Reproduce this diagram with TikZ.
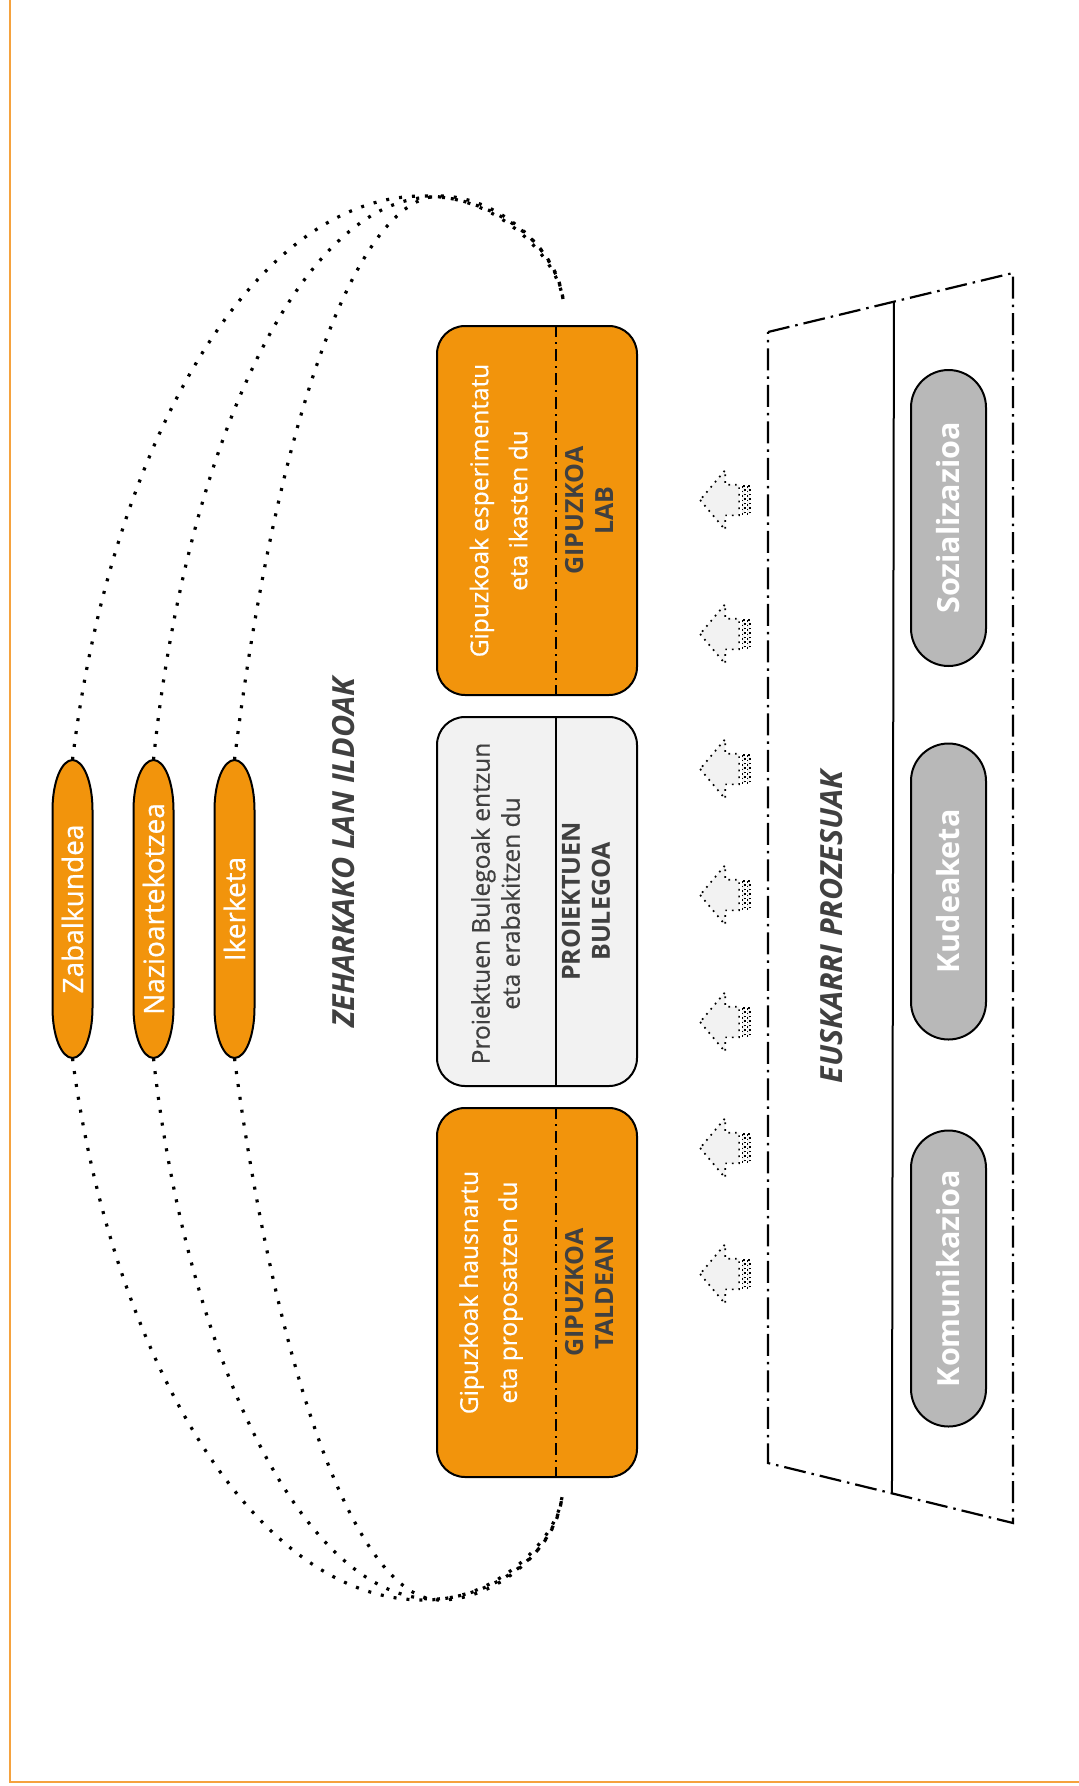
\documentclass[tikz,border=0pt]{standalone}
\usepackage{fontspec}
\setmainfont{Open Sans}
\newfontfamily\regfont{Open Sans}[FakeBold = 0.6]
\usepackage{xcolor}
\usepackage{tikz}
\usetikzlibrary{positioning, calc, shapes.arrows}

\definecolor{gipOrange}{RGB}{242,148,12}
\definecolor{frameOrange}{RGB}{245,162,62}
\definecolor{darkText}{RGB}{64,64,64}
\definecolor{stadiumGray}{RGB}{184,184,184}
\definecolor{paleGray}{RGB}{242,242,242}

\begin{document}
\begin{tikzpicture}[x = 1pt, y = -1pt,
    bigbox/.style = {draw, line width = 2, rounded corners = 28, minimum width = 200,
        minimum height = 369, inner sep = 0},
    desc/.style = {rotate = 90, align = center, inner sep = 0,
        font = \regfont\fontsize{24.5}{39}\selectfont},
    boxname/.style = {rotate = 90, align = center, inner sep = 0, text = darkText,
        font = \bfseries\fontsize{25}{30}\selectfont},
    ovalline/.style = {draw, line width = 2, fill = gipOrange},
    ovaltext/.style = {rotate = 90, inner sep = 0, minimum width = 298, text = white,
        font = \regfont\fontsize{28}{32}\selectfont},
    heading/.style = {rotate = 90, inner sep = 0, text = darkText,
        font = \bfseries\itshape\fontsize{30.5}{36}\selectfont},
    stadium/.style = {rotate = 90, draw, line width = 2, fill = stadiumGray,
        rounded corners = 37.5, minimum width = 296, minimum height = 75, inner sep = 0,
        text = white, font = \bfseries\fontsize{30.5}{36}\selectfont},
    dotline/.style = {line width = 3.2, dash pattern = on 3 off 10},
    dashdot/.style = {line width = 2, dash pattern = on 12 off 5 on 2 off 5},
    dashframe/.style = {line width = 2.2, dash pattern = on 22 off 6 on 2.5 off 6},
    pusharrow/.style = {single arrow, shape border rotate = 180, draw, fill = paleGray,
        line width = 1.7, dash pattern = on 1.7 off 5, minimum height = 39,
        inner xsep = 0, inner ysep = 14.5, single arrow head extend = 14.5,
        single arrow tip angle = 100},
    stripe/.style = {draw, fill = paleGray, line width = 1.5, dash pattern = on 1.5 off 3}]

    \useasboundingbox (0, 0) rectangle (1079, 1786);
    \draw [frameOrange, line width = 2.5] (10, 0) -- (10, 1782) -- (1079, 1782);

    % ildoak
    \foreach \cx in {72.5, 153.5, 234.5} {
        \draw [ovalline] (\cx - 20, 810) .. controls (\cx - 20, 782) and (\cx - 11, 760)
            .. (\cx, 760) .. controls (\cx + 11, 760) and (\cx + 20, 782) .. (\cx + 20, 810)
            -- (\cx + 20, 1008) .. controls (\cx + 20, 1036) and (\cx + 11, 1058)
            .. (\cx, 1058) .. controls (\cx - 11, 1058) and (\cx - 20, 1036)
            .. (\cx - 20, 1008) -- cycle;
    }
    \node [ovaltext] (zab) at (72.5, 909) {Zabalkundea};
    \node [ovaltext] (naz) at (153.5, 909) {Nazioartekotzea};
    \node [ovaltext] (iker) at (234.5, 909) {Ikerketa};
    \node [heading] (zeharkako) at (344, 853) {ZEHARKAKO LAN ILDOAK};

    % boxes
    \node [bigbox, fill = gipOrange] (lab) at (537, 510.5) {};
    \node [bigbox, fill = paleGray] (bulegoa) at (537, 901.5) {};
    \node [bigbox, fill = gipOrange] (taldean) at (537, 1292.5) {};
    \draw [dashdot] ($(lab.north) + (19, 0)$) -- ($(lab.south) + (19, 0)$);
    \draw [line width = 2] ($(bulegoa.north) + (19, 0)$) -- ($(bulegoa.south) + (19, 0)$);
    \draw [dashdot] ($(taldean.north) + (19, 0)$) -- ($(taldean.south) + (19, 0)$);

    \node [desc, text = white] (labtext) at ($(lab.center) + (-38.5, 0)$)
        {Gipuzkoak esperimentatu\\eta ikasten du};
    \node [boxname] (labname) at ($(lab.center) + (52, 0)$) {GIPUZKOA\\LAB};
    \node [desc, text = darkText, font = \regfont\fontsize{24.5}{30}\selectfont] (bulegotext)
        at ($(bulegoa.center) + (-41.5, 2)$) {Proiektuen Bulegoak entzun\\eta erabakitzen du};
    \node [boxname] (bulegoname) at ($(bulegoa.center) + (49, 0)$) {PROIEKTUEN\\BULEGOA};
    \node [desc, text = white] (taldeantext) at ($(taldean.center) + (-46, 0)$)
        {Gipuzkoak hausnartu\\eta proposatzen du};
    \node [boxname] (taldeanname) at ($(taldean.center) + (52, 0)$) {GIPUZKOA\\TALDEAN};

    % dotted links
    \coordinate (labtop) at ($(lab.north) + (26, -26)$);
    \coordinate (taldbot) at ($(taldean.south) + (25, 19)$);
    \draw [dotline] (zab.east) .. controls (110, 450) and (250, 196) .. (423, 196)
        .. controls (490, 196) and (555, 240) .. (labtop);
    \draw [dotline] (naz.east) .. controls (185, 450) and (300, 197) .. (434, 197)
        .. controls (490, 197) and (555, 250) .. (labtop);
    \draw [dotline] (iker.east) .. controls (275, 430) and (355, 196) .. (440, 196)
        .. controls (495, 196) and (555, 245) .. (labtop);
    \draw [dotline] (zab.west) .. controls (110, 1346) and (250, 1600) .. (423, 1600)
        .. controls (490, 1600) and (555, 1556) .. (taldbot);
    \draw [dotline] (naz.west) .. controls (185, 1346) and (300, 1599) .. (434, 1599)
        .. controls (490, 1599) and (555, 1546) .. (taldbot);
    \draw [dotline] (iker.west) .. controls (275, 1366) and (355, 1600) .. (440, 1600)
        .. controls (495, 1600) and (555, 1551) .. (taldbot);

    % arrows
    \foreach \ay [count = \i] in {500, 634, 769, 895, 1022, 1148, 1274} {
        \node [pusharrow, anchor = tip] (push\i) at (699, \ay) {};
        \draw [stripe] ($(push\i.tail) + (2.5, -14)$) rectangle ++ (2.5, 28);
        \draw [stripe] ($(push\i.tail) + (7.5, -14)$) rectangle ++ (2.5, 28);
    }

    % euskarri prozesuak
    \coordinate (tl) at (768, 332);
    \coordinate (tr) at (1013, 273);
    \coordinate (br) at (1013, 1523);
    \coordinate (bl) at (768, 1463);
    \draw [dashframe] (tl) -- (tr) -- (br) -- (bl) -- cycle;
    \draw [line width = 2] ($(tl)!0.514!(tr)$) -- ($(bl)!0.506!(br)$);
    \node [heading] (euskarri) at (832, 927) {EUSKARRI PROZESUAK};
    \node [stadium] (sozial) at (948.5, 518) {Sozializazioa};
    \node [stadium] (kudeak) at (948.5, 891.5) {Kudeaketa};
    \node [stadium] (komun) at (948.5, 1278.5) {Komunikazioa};
\end{tikzpicture}
\end{document}
